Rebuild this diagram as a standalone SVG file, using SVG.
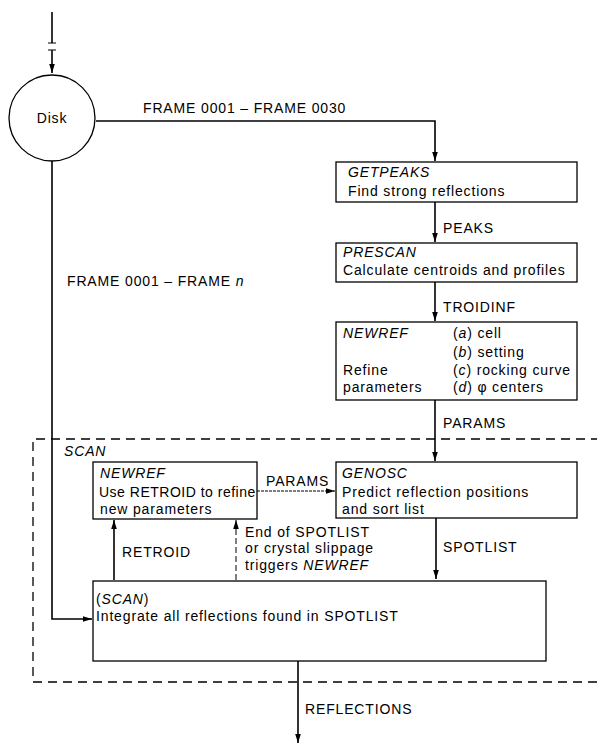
<svg xmlns="http://www.w3.org/2000/svg" width="597" height="746" viewBox="0 0 597 746">
<defs>
<marker id="ah" markerWidth="10" markerHeight="8" refX="9" refY="4" orient="auto" markerUnits="userSpaceOnUse">
<path d="M0,1.2 L9,4 L0,6.8 Z" fill="#000"/>
</marker>
<style>
text{font-family:"Liberation Sans",Arial,sans-serif;font-size:14px;letter-spacing:0.85px;fill:#000}
.i{font-style:italic}
.box{fill:#fff;stroke:#000;stroke-width:1.3}
.ln{fill:none;stroke:#000;stroke-width:1.6}
.th{fill:none;stroke:#000;stroke-width:1}
.dash{fill:none;stroke:#000;stroke-width:1.3;stroke-dasharray:9,6}
</style>
</defs>
<rect width="597" height="746" fill="#fff"/>

<g id="connectors">
<path class="ln" d="M52,12 V43"/>
<path class="th" d="M48,43 H56 M48,50 H56"/>
<path class="ln" d="M52,50 V73" marker-end="url(#ah)"/>
<path class="ln" d="M96,121 H435 V161" marker-end="url(#ah)"/>
<path class="ln" d="M435,202 V242" marker-end="url(#ah)"/>
<path class="ln" d="M435,282 V321" marker-end="url(#ah)"/>
<path class="ln" d="M435,400 V461" marker-end="url(#ah)"/>
<path class="th" d="M257,491 H335" stroke-dasharray="3,1" marker-end="url(#ah)"/>
<path class="ln" d="M114,580 V520" marker-end="url(#ah)"/>
<path class="th" d="M236,580 V520" stroke-dasharray="6,3" marker-end="url(#ah)"/>
<path class="ln" d="M436,518 V579" marker-end="url(#ah)"/>
<path class="ln" d="M52,161 V619 H92" marker-end="url(#ah)"/>
<path class="ln" d="M298,661 V743" marker-end="url(#ah)"/>
<path class="dash" d="M600,439 H33 V682 H600"/>
</g>

<g id="disk">
<circle class="box" cx="52" cy="118" r="43"/>
<text x="52" y="123" text-anchor="middle">Disk</text>
</g>

<g id="labels">
<text x="143" y="113">FRAME 0001 – FRAME 0030</text>
<text x="67" y="286">FRAME 0001 – FRAME <tspan class="i">n</tspan></text>
<text x="443" y="233">PEAKS</text>
<text x="443" y="312">TROIDINF</text>
<text x="443" y="428">PARAMS</text>
<text x="64" y="456" class="i">SCAN</text>
<text x="266" y="486">PARAMS</text>
<text x="122" y="557">RETROID</text>
<text x="245" y="537">End of SPOTLIST</text>
<text x="245" y="553">or crystal slippage</text>
<text x="245" y="570">triggers <tspan class="i">NEWREF</tspan></text>
<text x="443" y="552">SPOTLIST</text>
<text x="305" y="714">REFLECTIONS</text>
</g>

<g id="getpeaks">
<rect class="box" x="336" y="162" width="241" height="40"/>
<text x="348" y="177" class="i">GETPEAKS</text>
<text x="348" y="196">Find strong reflections</text>
</g>

<g id="prescan">
<rect class="box" x="336" y="243" width="241" height="39"/>
<text x="343" y="257" class="i">PRESCAN</text>
<text x="343" y="275">Calculate centroids and profiles</text>
</g>

<g id="newref1">
<rect class="box" x="336" y="322" width="241" height="78"/>
<text x="343" y="338" class="i">NEWREF</text>
<text x="453" y="338">(<tspan class="i">a</tspan>)  cell</text>
<text x="453" y="357">(<tspan class="i">b</tspan>)  setting</text>
<text x="343" y="375">Refine</text>
<text x="453" y="375">(<tspan class="i">c</tspan>)  rocking curve</text>
<text x="343" y="392">parameters</text>
<text x="453" y="392">(<tspan class="i">d</tspan>)  φ centers</text>
</g>

<g id="newref2">
<rect class="box" x="93" y="462" width="164" height="57"/>
<text x="100" y="478" class="i">NEWREF</text>
<text x="99" y="497" style="letter-spacing:0.5px">Use RETROID to refine</text>
<text x="100" y="514">new parameters</text>
</g>

<g id="genosc">
<rect class="box" x="336" y="462" width="241" height="56"/>
<text x="342" y="478" class="i">GENOSC</text>
<text x="342" y="497">Predict reflection positions</text>
<text x="342" y="514">and sort list</text>
</g>

<g id="scan">
<rect class="box" x="93" y="581" width="453" height="80"/>
<text x="96" y="604">(<tspan class="i">SCAN</tspan>)</text>
<text x="96" y="621">Integrate all reflections found in SPOTLIST</text>
</g>
</svg>
